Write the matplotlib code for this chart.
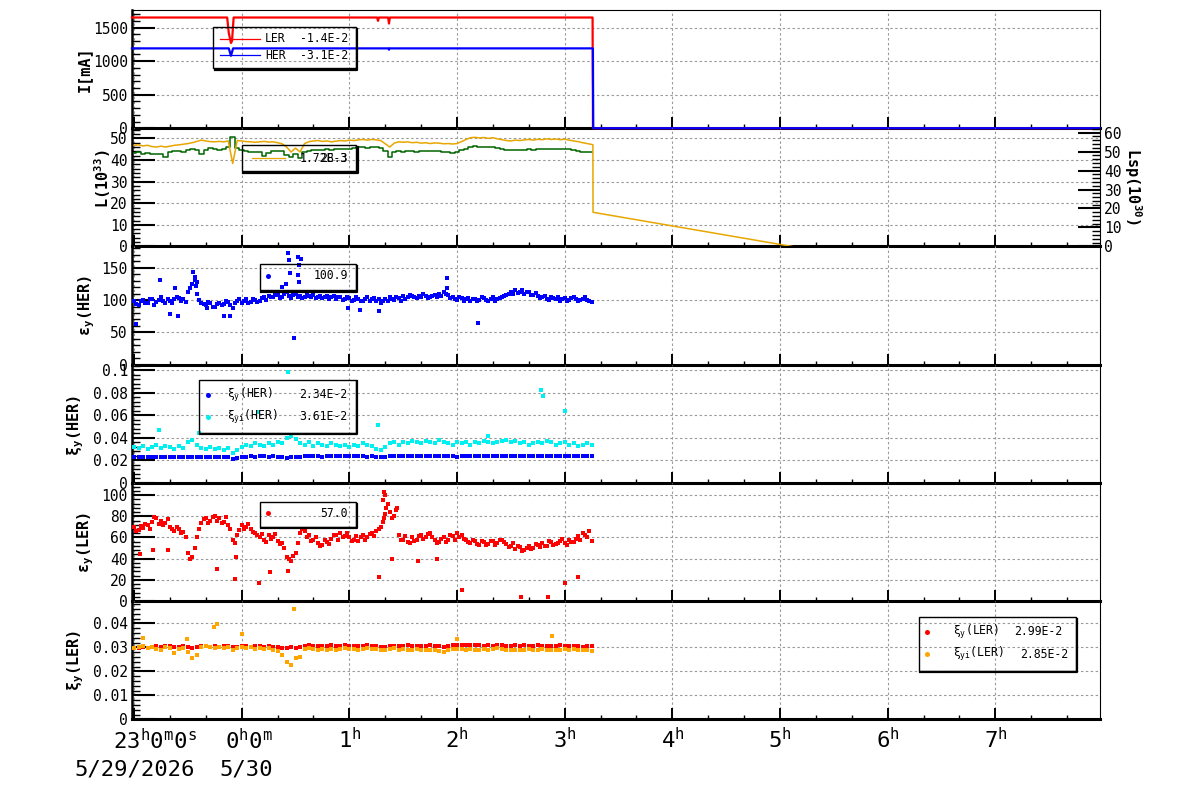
import numpy as np
import matplotlib
matplotlib.use('Agg')
import matplotlib.pyplot as plt
import matplotlib.transforms as mtransforms
from matplotlib.ticker import MultipleLocator, FuncFormatter
from matplotlib.patches import Rectangle
from matplotlib.lines import Line2D

plt.rcParams['font.family'] = ['DejaVu Sans Mono', 'DejaVu Sans']
plt.rcParams['mathtext.fontset'] = 'custom'
plt.rcParams['mathtext.rm'] = 'DejaVu Sans Mono'
plt.rcParams['mathtext.it'] = 'DejaVu Sans Mono'
plt.rcParams['mathtext.bf'] = 'DejaVu Sans Mono:bold'

# time axis: hours relative to 0h of 5/30 (23h of 5/29 = -1)
hour_ticks = [-1, 0, 1, 2, 3, 4, 5, 6, 7]
hour_labels = ['', '', r'$\mathrm{1^{h}}$', r'$\mathrm{2^{h}}$', r'$\mathrm{3^{h}}$',
               r'$\mathrm{4^{h}}$', r'$\mathrm{5^{h}}$', r'$\mathrm{6^{h}}$', r'$\mathrm{7^{h}}$']
first_labels = [r'$\mathrm{23^{h}0^{m}0^{s}}$', r'$\mathrm{0^{h}0^{m}}$']
date_labels = ['5/29/2026', '5/30']

# samples every 2.5 min from 23h00 to 3h15 (plus in-between samples for emittances)
t_scan = -1.0 + np.arange(103) / 24.0
t_half = t_scan[:-1] + 1.0 / 48.0

# beam currents [mA]
t_ler = [-1.02, -0.135, -0.12, -0.1, -0.09, -0.075, 1.258, 1.266, 1.274, 1.360, 1.368, 1.376,
         3.259, 3.2605, 3.2615, 3.2625, 7.972]
i_ler = [1650, 1650, 1420, 1270, 1300, 1650, 1650, 1600, 1650, 1650, 1560, 1650,
         1650, 820, 600, 0, 0]
t_her = [-1.02, -0.12, -0.1, -0.08, 1.362, 1.368, 1.374, 3.262, 3.265, 7.972]
i_her = [1190, 1190, 1080, 1190, 1190, 1170, 1190, 1190, 0, 0]

# luminosity (1e33)
lum = [43.3, 43.5, 43.0, 43.2, 42.8, 43.0, 42.6, 41.4, 43.5, 44.0, 44.2, 43.8,
       44.5, 45.0, 44.6, 42.7, 44.8, 45.4, 45.0, 44.7, 45.2, 46.0, 50.5, 45.4,
       44.5, 44.0, 43.8, 43.5, 43.6, 42.0, 43.2, 44.0, 44.2, 44.0, 42.5, 41.4,
       42.8, 40.7, 43.5, 44.2, 44.5, 44.8, 44.6, 45.0, 44.8, 45.0, 45.2, 45.0,
       45.3, 45.6, 45.8, 46.0, 45.7, 45.9, 46.0, 45.5, 44.0, 41.4, 43.5, 44.0,
       43.8, 44.2, 44.0, 43.9, 44.2, 44.0, 44.3, 44.1, 44.0, 43.8, 43.5, 43.4,
       43.8, 44.5, 45.2, 46.0, 46.3, 46.0, 46.2, 45.8, 46.0, 45.6, 45.0, 44.6,
       44.4, 44.8, 44.5, 44.7, 45.0, 44.8, 45.2, 45.0, 45.3, 45.1, 44.9, 45.2,
       45.0, 45.3, 44.8, 44.2, 43.9, 43.7, 43.8]
lsp = [46.8, 47.0, 46.5, 46.8, 46.2, 46.0, 46.4, 46.0, 46.4, 46.8, 47.0, 47.3,
       47.6, 48.0, 48.6, 49.2, 48.8, 48.5, 48.4, 48.6, 48.4, 48.8, 38.4, 49.0,
       48.8, 48.5, 48.4, 48.2, 48.4, 48.6, 48.3, 48.4, 48.0, 47.5, 46.0, 43.7,
       45.5, 43.7, 47.6, 48.5, 48.8, 49.0, 48.6, 48.8, 48.4, 48.7, 49.0, 48.8,
       49.2, 49.0, 49.3, 49.5, 49.2, 49.5, 49.3, 49.0, 47.5, 46.0, 47.8, 48.4,
       48.2, 48.4, 48.0, 48.2, 47.8, 48.0, 47.6, 47.9, 47.8, 47.5, 47.6, 47.4,
       47.6, 48.5, 49.5, 50.3, 50.5, 50.2, 50.4, 50.0, 50.3, 49.8, 49.4, 49.0,
       48.8, 49.2, 49.0, 49.3, 49.5, 49.2, 49.6, 49.4, 49.8, 49.5, 49.7, 49.4,
       49.6, 49.2, 48.8, 48.5, 48.0, 47.6, 47.2]
lsp_tail_t = [3.262, 3.263, 5.11]
lsp_tail_v = [47.0, 15.8, 0.0]

# vertical emittance HER
emit_her = [98, 92, 100, 95, 101, 97, 104, 96, 99, 101, 103, 102,
            112, 125, 110, 96, 92, 95, 90, 96, 94, 97, 88, 98,
            95, 101, 97, 100, 99, 104, 106, 104, 108, 105, 112, 103,
            110, 107, 104, 106, 108, 105, 103, 106, 104, 102, 105, 101,
            103, 100, 102, 99, 104, 101, 98, 96, 102, 105, 100, 103,
            106, 104, 107, 103, 105, 106, 104, 108, 110, 112, 108, 104,
            100, 103, 101, 98, 102, 100, 103, 99, 104, 101, 105, 108,
            112, 115, 113, 110, 112, 108, 106, 104, 102, 105, 101, 99,
            103, 100, 104, 98, 102, 100, 97]
emit_her_mid = [94, 99, 96, 102, 93, 100, 98, 101, 95, 104, 99, 97,
                118, 131, 100, 94, 97, 90, 94, 92, 98, 93, 95, 101,
                99, 96, 102, 97, 103, 100, 104, 108, 103, 110, 106, 108,
                105, 103, 108, 104, 103, 107, 104, 102, 107, 104, 100, 104,
                99, 104, 98, 102, 99, 103, 101, 99, 98, 101, 104, 99,
                102, 108, 104, 106, 109, 103, 107, 105, 107, 109, 103, 101,
                104, 99, 103, 101, 98, 104, 100, 102, 99, 103, 107, 110,
                109, 111, 116, 112, 108, 111, 103, 106, 100, 103, 104, 102,
                99, 103, 101, 100, 104, 99]
emit_her_out_t = [-0.982, -0.759, -0.666, -0.62, -0.592, -0.452, -0.434, -0.415, -0.424,
                  -0.322, -0.164, -0.109, 0.375, 0.412, 0.430, 0.439, 0.448, 0.523, 0.532,
                  0.523, 0.532, 0.551, 0.486, 0.987, 1.099, 1.275, 1.907, 1.907, 2.195]
emit_her_out_v = [63, 131, 79, 118, 76, 143, 135, 128, 122,
                  87, 75, 76, 120, 125, 173, 162, 142, 167, 154,
                  139, 128, 164, 42, 87, 84, 83, 134, 118, 65]

# beam-beam parameter HER
xi_her = [0.0230, 0.0232, 0.0229, 0.0231, 0.0233, 0.0230, 0.0228, 0.0231, 0.0233, 0.0232, 0.0230, 0.0229,
          0.0231, 0.0234, 0.0232, 0.0230, 0.0229, 0.0231, 0.0233, 0.0232, 0.0230, 0.0226, 0.0212, 0.0222,
          0.0230, 0.0233, 0.0235, 0.0234, 0.0236, 0.0235, 0.0233, 0.0236, 0.0234, 0.0230, 0.0224, 0.0226,
          0.0228, 0.0234, 0.0236, 0.0235, 0.0237, 0.0236, 0.0234, 0.0236, 0.0237, 0.0235, 0.0236, 0.0238,
          0.0236, 0.0235, 0.0237, 0.0236, 0.0234, 0.0236, 0.0233, 0.0230, 0.0234, 0.0236, 0.0237, 0.0235,
          0.0237, 0.0236, 0.0238, 0.0237, 0.0235, 0.0237, 0.0236, 0.0238, 0.0236, 0.0235, 0.0237, 0.0236,
          0.0234, 0.0236, 0.0238, 0.0237, 0.0239, 0.0238, 0.0236, 0.0238, 0.0237, 0.0239, 0.0238, 0.0236,
          0.0237, 0.0239, 0.0238, 0.0236, 0.0238, 0.0237, 0.0239, 0.0238, 0.0236, 0.0238, 0.0237, 0.0236,
          0.0238, 0.0237, 0.0235, 0.0237, 0.0236, 0.0238, 0.0236]
xii_her = [0.032, 0.031, 0.033, 0.030, 0.032, 0.034, 0.031, 0.033, 0.032, 0.030, 0.033, 0.031,
           0.036, 0.038, 0.034, 0.031, 0.030, 0.032, 0.030, 0.031, 0.029, 0.031, 0.0265, 0.029,
           0.032, 0.034, 0.033, 0.035, 0.034, 0.033, 0.035, 0.034, 0.036, 0.035, 0.040, 0.042,
           0.039, 0.035, 0.034, 0.036, 0.033, 0.035, 0.034, 0.033, 0.035, 0.034, 0.033, 0.034,
           0.032, 0.034, 0.033, 0.035, 0.034, 0.033, 0.030, 0.029, 0.032, 0.035, 0.036, 0.034,
           0.036, 0.035, 0.037, 0.036, 0.035, 0.037, 0.036, 0.035, 0.038, 0.036, 0.035, 0.034,
           0.036, 0.035, 0.036, 0.034, 0.036, 0.035, 0.037, 0.036, 0.035, 0.036, 0.037, 0.038,
           0.036, 0.037, 0.035, 0.036, 0.034, 0.035, 0.036, 0.035, 0.037, 0.036, 0.034, 0.035,
           0.036, 0.034, 0.035, 0.033, 0.034, 0.035, 0.034]
xii_her_out_t = [-0.768, -0.397, 0.151, 0.430, 1.266, 2.288, 2.780, 2.799, 3.003]
xii_her_out_v = [0.047, 0.044, 0.063, 0.0988, 0.0514, 0.042, 0.0825, 0.0772, 0.0638]

# vertical emittance LER
emit_ler = [70, 67, 69, 72, 75, 78, 76, 74, 70, 66, 68, 65,
            45, 42, 60, 74, 78, 76, 80, 78, 75, 72, 58, 62,
            72, 70, 68, 64, 60, 58, 62, 60, 57, 55, 42, 38,
            45, 64, 66, 62, 58, 55, 53, 56, 59, 62, 64, 61,
            60, 58, 57, 62, 60, 64, 66, 70, 82, 84, 80, 62,
            58, 56, 60, 58, 62, 60, 64, 58, 56, 60, 58, 61,
            64, 62, 58, 55, 57, 53, 56, 54, 57, 55, 58, 54,
            52, 49, 51, 48, 52, 50, 53, 55, 52, 56, 54, 57,
            55, 58, 56, 61, 64, 60, 57]
emit_ler_mid = [66, 71, 73, 68, 79, 73, 72, 77, 68, 70, 64, 60,
                40, 50, 68, 77, 74, 79, 76, 74, 79, 68, 55, 67,
                68, 73, 65, 62, 63, 56, 59, 63, 54, 50, 40, 43,
                55, 68, 60, 57, 60, 52, 58, 54, 62, 58, 60, 64,
                57, 61, 60, 58, 63, 61, 68, 75, 92, 78, 86, 58,
                61, 55, 57, 61, 59, 63, 60, 55, 59, 56, 62, 58,
                60, 59, 56, 58, 54, 57, 53, 57, 53, 58, 56, 51,
                55, 52, 47, 50, 49, 54, 51, 52, 57, 53, 55, 59,
                53, 56, 59, 58, 62, 66]
emit_ler_out_t = [-0.943, -0.824, -0.685, -0.229, -0.062, -0.053, 0.161, 0.263, 0.430,
                  1.275, 1.313, 1.322, 1.331, 1.341, 1.322, 1.396, 1.443, 1.637, 1.813,
                  2.046, 2.594, 2.845, 3.003, 3.124]
emit_ler_out_v = [44, 48.5, 48.5, 30.7, 21.3, 42, 16.6, 27.9, 28.8,
                  23.2, 95, 103, 100, 88, 78, 40, 88, 38, 40,
                  10, 3.5, 3.5, 17.5, 23]

# beam-beam parameter LER
xi_ler = [0.0298, 0.0296, 0.0300, 0.0297, 0.0303, 0.0305, 0.0302, 0.0306, 0.0304, 0.0300, 0.0303, 0.0305,
          0.0301, 0.0298, 0.0300, 0.0304, 0.0306, 0.0303, 0.0305, 0.0302, 0.0304, 0.0306, 0.0300, 0.0303,
          0.0307, 0.0305, 0.0303, 0.0306, 0.0304, 0.0302, 0.0305, 0.0303, 0.0301, 0.0299, 0.0296, 0.0300,
          0.0298, 0.0302, 0.0306, 0.0308, 0.0305, 0.0307, 0.0304, 0.0306, 0.0308, 0.0305, 0.0307, 0.0309,
          0.0306, 0.0304, 0.0307, 0.0305, 0.0308, 0.0306, 0.0304, 0.0302, 0.0300, 0.0305, 0.0307, 0.0304,
          0.0306, 0.0308, 0.0305, 0.0307, 0.0304, 0.0306, 0.0309, 0.0307, 0.0305, 0.0303, 0.0306, 0.0308,
          0.0310, 0.0312, 0.0309, 0.0311, 0.0308, 0.0310, 0.0307, 0.0309, 0.0306, 0.0308, 0.0310, 0.0307,
          0.0305, 0.0308, 0.0306, 0.0309, 0.0307, 0.0305, 0.0308, 0.0306, 0.0304, 0.0307, 0.0305, 0.0308,
          0.0306, 0.0304, 0.0307, 0.0305, 0.0303, 0.0306, 0.0304]
xii_ler = [0.0296, 0.0300, 0.0305, 0.0298, 0.0302, 0.0295, 0.0290, 0.0300, 0.0296, 0.0275, 0.0292, 0.0298,
           0.0280, 0.0255, 0.0270, 0.0302, 0.0305, 0.0300, 0.0296, 0.0302, 0.0298, 0.0300, 0.0288, 0.0298,
           0.0302, 0.0296, 0.0300, 0.0294, 0.0297, 0.0293, 0.0296, 0.0290, 0.0285, 0.0270, 0.0240, 0.0228,
           0.0255, 0.0258, 0.0292, 0.0296, 0.0293, 0.0290, 0.0294, 0.0291, 0.0295, 0.0290, 0.0293, 0.0296,
           0.0292, 0.0295, 0.0290, 0.0294, 0.0296, 0.0292, 0.0295, 0.0290, 0.0288, 0.0293, 0.0296, 0.0291,
           0.0294, 0.0290, 0.0288, 0.0292, 0.0289, 0.0291, 0.0287, 0.0290, 0.0286, 0.0282, 0.0290, 0.0292,
           0.0295, 0.0293, 0.0290, 0.0292, 0.0289, 0.0291, 0.0294, 0.0290, 0.0292, 0.0296, 0.0293, 0.0290,
           0.0288, 0.0291, 0.0287, 0.0290, 0.0292, 0.0289, 0.0291, 0.0293, 0.0290, 0.0288, 0.0291, 0.0289,
           0.0293, 0.0290, 0.0292, 0.0288, 0.0291, 0.0289, 0.0286]
xii_ler_out_t = [-0.917, -0.508, -0.255, -0.229, 0.003, 0.486, 1.999, 2.882]
xii_ler_out_v = [0.0338, 0.0335, 0.0386, 0.0397, 0.0355, 0.046, 0.0334, 0.0347]

RED, BLUE, GREEN, GOLD = '#ff0000', '#0000ff', '#006400', '#e8a600'
CYAN, ORANGE = '#00f0f0', '#ffa500'

fig = plt.figure(figsize=(12, 7.98), dpi=100)
panel_h = 118.22
axes = []
for i in range(6):
    top = 10 + panel_h * i
    ax = fig.add_axes([132 / 1200, 1 - (top + panel_h) / 798, 968 / 1200, panel_h / 798],
                      sharex=axes[0] if axes else None)
    ax.patch.set_visible(False)
    axes.append(ax)


def fmt(v, pos):
    return '%g' % v


def style(ax, ymax, major, minor):
    ax.set_ylim(0, ymax)
    ax.yaxis.set_major_locator(MultipleLocator(major))
    ax.yaxis.set_minor_locator(MultipleLocator(minor))
    ax.yaxis.set_major_formatter(FuncFormatter(fmt))
    ax.tick_params(axis='y', which='major', direction='in', length=16.5, width=1.5,
                   labelsize=10.5, pad=3, right=False)
    ax.tick_params(axis='y', which='minor', direction='in', length=6, width=1.0, right=False)
    ax.tick_params(axis='x', which='major', direction='in', length=8, width=1.4,
                   top=False, labelbottom=False)
    ax.tick_params(axis='x', which='minor', direction='in', length=3, width=1.0, top=False)
    ax.grid(True, which='major', color='#9a9a9a', linestyle=(0, (2.2, 2.2)), linewidth=0.8)
    ax.spines['top'].set_linewidth(0.8)
    ax.spines['right'].set_linewidth(0.8)
    ax.spines['left'].set_linewidth(1.8)
    ax.spines['bottom'].set_linewidth(2.2)


def legend_frame(ax, x0, y0, x1, y1):
    ax.add_patch(Rectangle((x0, y0), x1 - x0, y1 - y0, transform=ax.transAxes,
                           fill=False, edgecolor='black', linewidth=1.0, zorder=8))
    shadow = ax.transAxes + mtransforms.ScaledTranslation(0.015, -0.015, fig.dpi_scale_trans)
    ax.add_line(Line2D([x0, x1, x1], [y0, y0, y1], transform=shadow,
                       color='black', lw=1.6, zorder=8))


def legend_text(ax, x, y, s, ha='left'):
    ax.text(x, y, s, transform=ax.transAxes, ha=ha, va='center', fontsize=8.3, zorder=9)


def legend_dot(ax, x, y, color):
    ax.plot([x], [y], 'o', ms=3.6, mew=0, color=color, transform=ax.transAxes, zorder=9)


def scatter(ax, t, v, color, ms=2.4):
    ax.plot(t, v, ls='none', marker='s', ms=ms, mew=0, color=color, zorder=3)


ax1, ax2, ax3, ax4, ax5, ax6 = axes
ax1.set_xlim(-1.019, 7.972)
ax1.xaxis.set_major_locator(MultipleLocator(1))
ax1.xaxis.set_minor_locator(MultipleLocator(1 / 3))

# currents
style(ax1, 1762, 500, 100)
ax1.plot(t_ler, i_ler, color=RED, lw=1.6, zorder=4, clip_on=False)
ax1.plot(t_her, i_her, color=BLUE, lw=1.6, zorder=4, clip_on=False)
ax1.set_ylabel('I[mA]', fontsize=11, fontweight='bold')
ax1.yaxis.set_label_coords(-0.0413, 0.5)
legend_frame(ax1, 0.0837, 0.509, 0.2314, 0.856)
ax1.plot([0.0909, 0.1322], [0.755, 0.755], color=RED, lw=0.9, transform=ax1.transAxes, zorder=9)
ax1.plot([0.0909, 0.1322], [0.619, 0.619], color=BLUE, lw=0.9, transform=ax1.transAxes, zorder=9)
legend_text(ax1, 0.1374, 0.755, 'LER')
legend_text(ax1, 0.2231, 0.755, '-1.4E-2', ha='right')
legend_text(ax1, 0.1374, 0.619, 'HER')
legend_text(ax1, 0.2231, 0.619, '-3.1E-2', ha='right')

# luminosity
style(ax2, 54.7, 10, 2)
ax2.plot(t_scan, lum, color=GREEN, lw=1.1, drawstyle='steps-mid', zorder=3)
ax2.plot(np.concatenate([t_scan, lsp_tail_t]), np.concatenate([lsp, lsp_tail_v]),
         color=GOLD, lw=1.1, zorder=3)
ax2.set_ylabel('L(10$^{\\mathbf{33}}$)', fontsize=11, fontweight='bold')
ax2.yaxis.set_label_coords(-0.0196, 0.57)
legend_frame(ax2, 0.1133, 0.638, 0.2317, 0.858)
ax2.plot([0.124, 0.158], [0.748, 0.748], color=GOLD, lw=0.9, transform=ax2.transAxes, zorder=9)
legend_text(ax2, 0.2231, 0.748, '1.72E-3', ha='right')
legend_text(ax2, 0.2231, 0.748, '28.3', ha='right')

ax2r = ax2.twinx()
ax2r.set_ylim(0, 62.3)
ax2r.yaxis.set_major_locator(MultipleLocator(10))
ax2r.yaxis.set_minor_locator(MultipleLocator(2))
ax2r.yaxis.set_major_formatter(FuncFormatter(fmt))
ax2r.tick_params(axis='y', which='major', direction='in', length=16, width=1.5, labelsize=10.5, pad=3)
ax2r.tick_params(axis='y', which='minor', direction='in', length=6, width=1.0)
for s in ax2r.spines.values():
    s.set_visible(False)
ax2r.set_ylabel('Lsp(10$^{\\mathbf{30}}$)', fontsize=11, fontweight='bold', rotation=-90)
ax2r.yaxis.label.set_va('bottom')
ax2r.yaxis.set_label_coords(1.0227, 0.507)

# emittance HER
style(ax3, 183, 50, 10)
scatter(ax3, t_scan, emit_her, BLUE)
scatter(ax3, t_half, emit_her_mid, BLUE)
scatter(ax3, emit_her_out_t, emit_her_out_v, BLUE)
ax3.set_ylabel(r'$\mathbf{ε_{y}}$(HER)', fontsize=11, fontweight='bold')
ax3.yaxis.set_label_coords(-0.036, 0.5)
legend_frame(ax3, 0.1322, 0.631, 0.2314, 0.851)
legend_dot(ax3, 0.1405, 0.75, BLUE)
legend_text(ax3, 0.2231, 0.75, '100.9', ha='right')

# beam-beam HER
style(ax4, 0.105, 0.02, 0.004)
scatter(ax4, t_scan, xii_her, CYAN, ms=2.9)
scatter(ax4, xii_her_out_t, xii_her_out_v, CYAN)
scatter(ax4, t_scan, xi_her, BLUE, ms=2.9)
ax4.set_ylabel(r'$\mathbf{ξ_{y}}$(HER)', fontsize=11, fontweight='bold')
ax4.yaxis.set_label_coords(-0.0475, 0.486)
legend_frame(ax4, 0.0692, 0.422, 0.2314, 0.871)
legend_dot(ax4, 0.0785, 0.744, BLUE)
legend_dot(ax4, 0.0785, 0.558, CYAN)
legend_text(ax4, 0.0981, 0.744, r'$ξ_{y}$(HER)')
legend_text(ax4, 0.0981, 0.558, r'$ξ_{yi}$(HER)')
legend_text(ax4, 0.2221, 0.744, '2.34E-2', ha='right')
legend_text(ax4, 0.2221, 0.558, '3.61E-2', ha='right')

# emittance LER
style(ax5, 111.5, 20, 4)
scatter(ax5, t_scan, emit_ler, RED)
scatter(ax5, t_half, emit_ler_mid, RED)
scatter(ax5, emit_ler_out_t, emit_ler_out_v, RED)
ax5.set_ylabel(r'$\mathbf{ε_{y}}$(LER)', fontsize=11, fontweight='bold')
ax5.yaxis.set_label_coords(-0.037, 0.5)
legend_frame(ax5, 0.1322, 0.627, 0.2314, 0.838)
legend_dot(ax5, 0.1405, 0.745, RED)
legend_text(ax5, 0.2231, 0.745, '57.0', ha='right')

# beam-beam LER
style(ax6, 0.0493, 0.01, 0.002)
scatter(ax6, t_scan, xi_ler, RED, ms=2.9)
scatter(ax6, t_scan, xii_ler, ORANGE, ms=2.9)
scatter(ax6, xii_ler_out_t, xii_ler_out_v, ORANGE)
ax6.set_ylabel(r'$\mathbf{ξ_{y}}$(LER)', fontsize=11, fontweight='bold')
ax6.yaxis.set_label_coords(-0.0475, 0.5)
legend_frame(ax6, 0.813, 0.409, 0.9752, 0.865)
legend_dot(ax6, 0.8213, 0.739, RED)
legend_dot(ax6, 0.8213, 0.552, ORANGE)
legend_text(ax6, 0.8481, 0.739, r'$ξ_{y}$(LER)')
legend_text(ax6, 0.8481, 0.552, r'$ξ_{yi}$(LER)')
legend_text(ax6, 0.9607, 0.739, '2.99E-2', ha='right')
legend_text(ax6, 0.9669, 0.552, '2.85E-2', ha='right')

# only the top pad shows its top frame; lower pads sit under the pad above
for ax in axes[1:]:
    ax.spines['top'].set_visible(False)

# time axis labels
ax6.set_xticks(hour_ticks)
ax6.set_xticklabels(hour_labels)
ax6.tick_params(axis='x', which='major', labelbottom=True, labelsize=16, pad=5.8)
trans = mtransforms.blended_transform_factory(ax6.transData, ax6.transAxes)
for h, lab, dx in zip(hour_ticks[:2], first_labels, [21, 7]):
    ax6.text(h, 0, lab, fontsize=16, ha='center', va='top',
             transform=trans + mtransforms.ScaledTranslation(dx / 100, -0.085, fig.dpi_scale_trans))
for h, lab, ddx in zip(hour_ticks[:2], date_labels, [1, 4]):
    ax6.text(h, 0, lab, fontsize=16, ha='center', va='baseline',
             transform=trans + mtransforms.ScaledTranslation(ddx / 100, -0.56, fig.dpi_scale_trans))

fig.savefig('out.png', dpi=100)
